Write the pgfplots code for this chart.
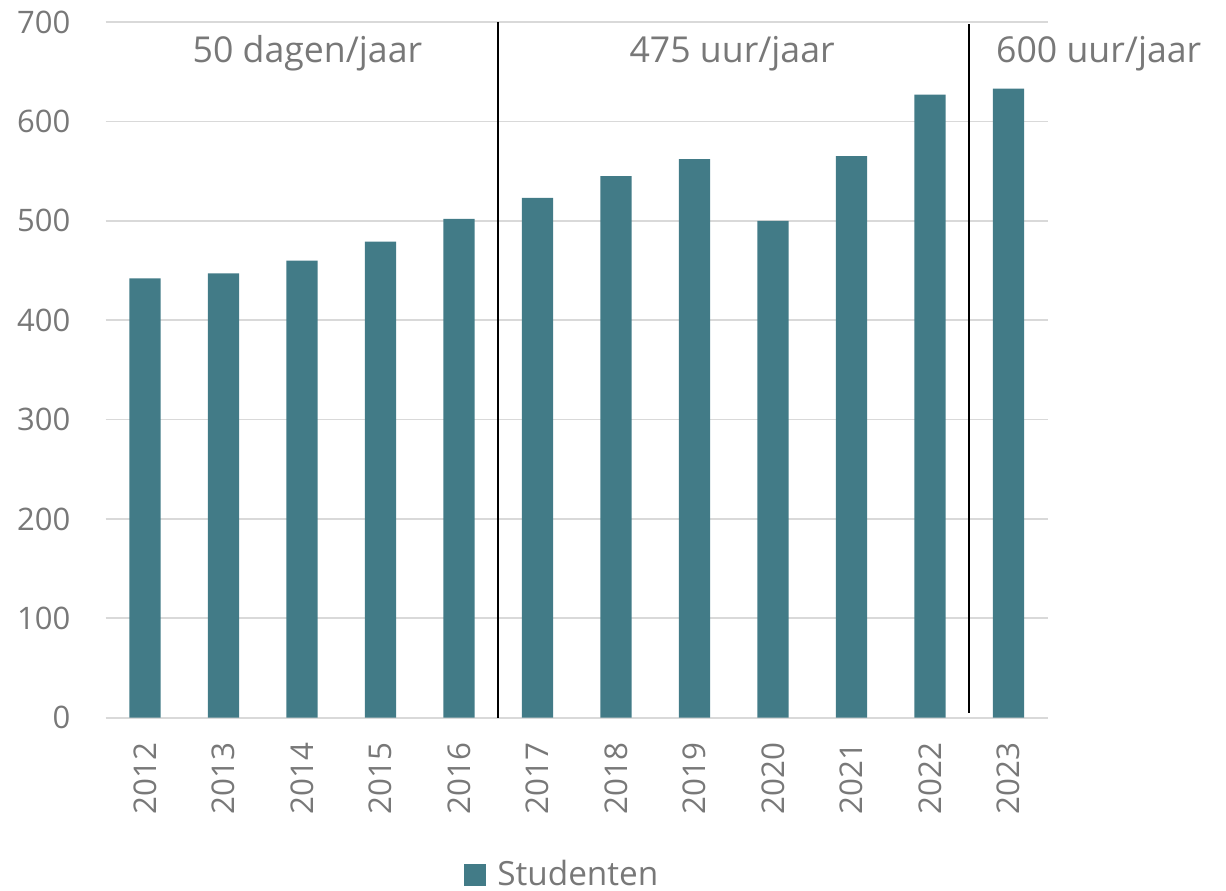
\documentclass[border=0pt]{standalone}
\usepackage{pgfplots}
\pgfplotsset{compat=1.18}
\usepackage{fontspec}
\setmainfont{Open Sans}
\definecolor{barc}{RGB}{66,123,135}
\definecolor{textgray}{RGB}{120,120,120}
\definecolor{gridc}{RGB}{217,217,217}
\begin{document}
\begin{tikzpicture}
\useasboundingbox (-31.71pt,-51.99pt) rectangle (336.09pt,215.31pt);
\begin{axis}[
  at={(0pt,0pt)}, anchor=south west,
  scale only axis, width=282.6pt, height=208.71pt,
  xmin=-0.5, xmax=11.5, ymin=0, ymax=700,
  axis line style={draw=none},
  major tick length=0pt,
  tick style={draw=none},
  ytick={0,100,...,700},
  ymajorgrids,
  grid style={gridc, line width=0.5pt},
  xtick={0,...,11},
  xticklabels={2012,2013,2014,2015,2016,2017,2018,2019,2020,2021,2022,2023},
  /pgf/number format/assume math mode=true,
  yticklabel style={font=\fontsize{9.3}{11}\selectfont, text=textgray, anchor=east, inner sep=0pt},
  yticklabel shift=10.4pt,
  xticklabel style={font=\fontsize{9.4}{11}\selectfont, text=textgray, rotate=90, anchor=east, inner sep=0pt},
  xticklabel shift=7.2pt,
  clip=false,
  legend style={at={(0.4833,-0.2261)}, anchor=center, draw=none, fill=none, inner sep=0pt,
    font=\fontsize{10}{12}\selectfont, text=textgray, column sep=3.3pt, nodes={inner sep=0pt}},
  legend cell align=left,
]
\addplot[ybar, bar width=9.4pt, fill=barc, draw=none,
  legend image code/.code={\fill[barc] (0pt,-3.4pt) rectangle (6.8pt,3.4pt);}]
  coordinates {(0,442) (1,447) (2,460) (3,479) (4,502) (5,523) (6,545) (7,562) (8,500) (9,565) (10,627) (11,633)};
\addlegendentry{Studenten}
\addplot[black, line width=0.6pt, forget plot] coordinates {(4.5,0) (4.5,700)};
\addplot[black, line width=0.6pt, forget plot] coordinates {(10.5,5) (10.5,698)};
\node[anchor=base, font=\fontsize{10.7}{13}\selectfont, text=textgray] at (axis cs:2.07,659) {50 dagen/jaar};
\node[anchor=base, font=\fontsize{10.7}{13}\selectfont, text=textgray] at (axis cs:7.48,659) {475 uur/jaar};
\node[anchor=base, font=\fontsize{10.7}{13}\selectfont, text=textgray] at (axis cs:12.15,659) {600 uur/jaar};
\end{axis}
\end{tikzpicture}
\end{document}
